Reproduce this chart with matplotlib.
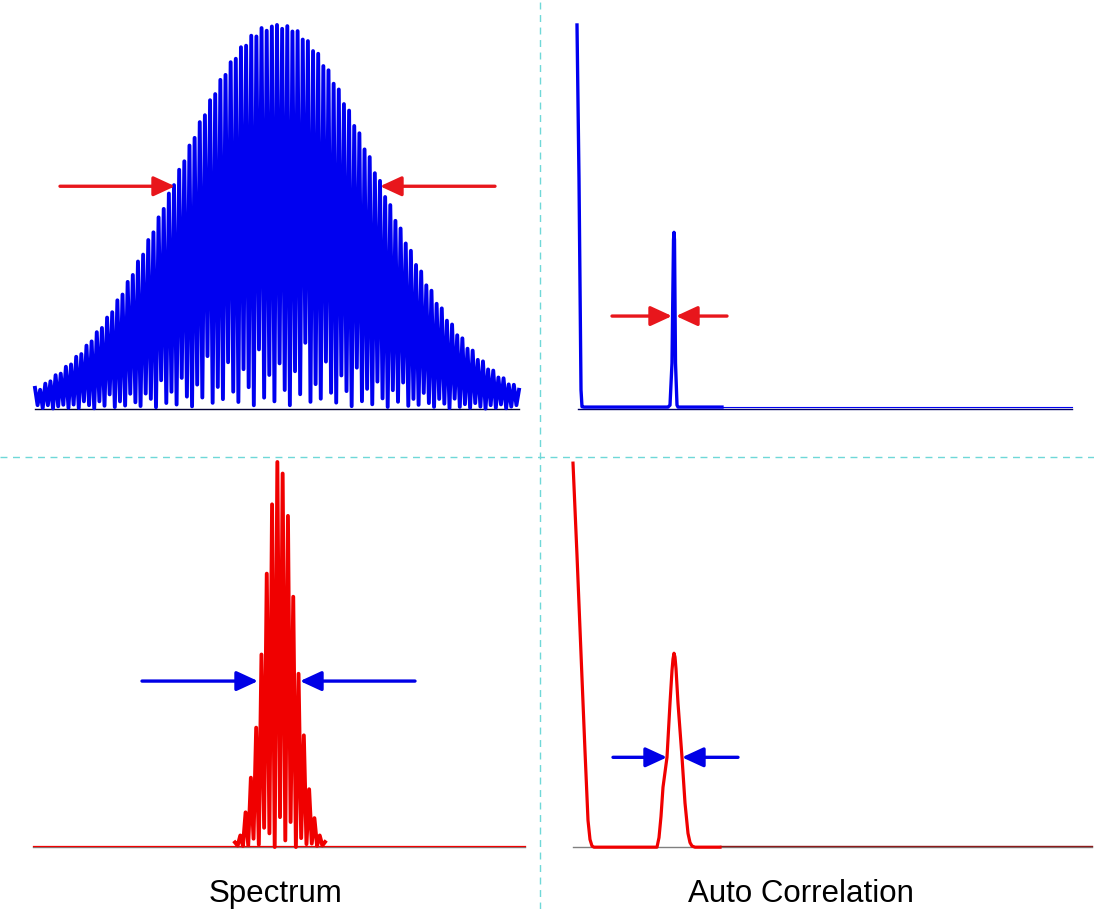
import matplotlib.pyplot as plt
import numpy as np
from matplotlib.lines import Line2D

# ---- data ----
# broad source: fringe peak heights (normalised) across the spectrum
blue_peaks = [
    0.055, 0.050, 0.066, 0.072, 0.088, 0.092, 0.110, 0.116, 0.136, 0.143,
    0.165, 0.176, 0.200, 0.211, 0.238, 0.252, 0.283, 0.298, 0.331, 0.349,
    0.384, 0.402, 0.440, 0.460, 0.499, 0.521, 0.561, 0.583, 0.623, 0.645,
    0.686, 0.706, 0.747, 0.765, 0.804, 0.820, 0.857, 0.870, 0.903, 0.912,
    0.942, 0.946, 0.972, 0.970, 0.992, 0.985, 0.996,
    1.000,
    0.990, 0.997, 0.983, 0.984, 0.962, 0.958, 0.932, 0.925, 0.893, 0.882,
    0.847, 0.832, 0.794, 0.777, 0.737, 0.718, 0.676, 0.656, 0.614, 0.594,
    0.552, 0.531, 0.490, 0.470, 0.431, 0.412, 0.375, 0.358, 0.322, 0.308,
    0.274, 0.262, 0.230, 0.220, 0.192, 0.184, 0.157, 0.152, 0.128, 0.124,
    0.103, 0.100, 0.082, 0.080, 0.064, 0.063, 0.050,
]
# depth of the dip between neighbouring fringes (fraction of lower peak)
blue_dips = [
    0.20, 0.05, 0.15, 0.02, 0.08, 0.12, 0.03, 0.10, 0.02, 0.14,
    0.06, 0.01, 0.10, 0.04, 0.16, 0.02, 0.07, 0.03, 0.12, 0.05,
    0.02, 0.10, 0.06, 0.01, 0.15, 0.03, 0.08, 0.02, 0.13, 0.05,
    0.01, 0.09, 0.04, 0.18, 0.02, 0.07, 0.03, 0.14, 0.05, 0.02,
    0.11, 0.06, 0.01, 0.16, 0.03, 0.09, 0.02, 0.12, 0.05, 0.01,
    0.10, 0.04, 0.18, 0.02, 0.07, 0.03, 0.14, 0.05, 0.02, 0.11,
    0.06, 0.01, 0.15, 0.03, 0.08, 0.02, 0.12, 0.05, 0.01, 0.10,
    0.04, 0.16, 0.02, 0.07, 0.03, 0.13, 0.05, 0.02, 0.10, 0.06,
    0.01, 0.14, 0.03, 0.08, 0.02, 0.12, 0.05, 0.01, 0.10, 0.04,
    0.15, 0.03, 0.10, 0.20,
]
blue_freq_range = (-2.42, 2.42)

# narrow source
red_peaks = [
    0.012, 0.030, 0.090, 0.180, 0.310, 0.500, 0.710, 0.890, 1.000,
    0.970, 0.860, 0.650, 0.450, 0.290, 0.150, 0.075, 0.030, 0.013,
]
red_dips = [
    0.30, 0.10, 0.05, 0.12, 0.02, 0.10, 0.05, 0.00, 0.08,
    0.02, 0.10, 0.00, 0.08, 0.05, 0.12, 0.10, 0.30,
]
red_freq_range = (-0.42, 0.48)
freq_extent = (-2.44, 2.48)

# autocorrelations (delay, amplitude)
blue_ac_delay = [-0.01, 0.01, 0.03, 0.04, 0.06, 0.90, 0.92, 0.94, 0.955,
                 0.96, 0.965, 0.975, 0.99, 1.00, 1.44]
blue_ac_amp = [1.00, 0.60, 0.05, 0.006, 0.005, 0.005, 0.01, 0.12, 0.44,
               0.46, 0.44, 0.12, 0.01, 0.005, 0.005]
blue_ac_end = 4.94

red_ac_delay = [0.00, 0.02, 0.04, 0.065, 0.09, 0.12, 0.15, 0.17, 0.19, 0.21,
                0.84, 0.86, 0.88, 0.90, 0.94, 0.97, 0.99, 1.00, 1.01, 1.02,
                1.03, 1.05, 1.09, 1.12, 1.15, 1.17, 1.19, 1.22, 1.47]
red_ac_amp = [1.00, 0.88, 0.76, 0.60, 0.44, 0.25, 0.07, 0.02, 0.003, 0.0,
              0.0, 0.025, 0.08, 0.156, 0.234, 0.375, 0.46, 0.49, 0.505, 0.495,
              0.465, 0.375, 0.234, 0.115, 0.036, 0.012, 0.003, 0.0, 0.0]
red_ac_end = 5.19

labels = ["Spectrum", "Auto Correlation"]

BLUE = "#0000f0"
RED = "#f00000"
ARROW_RED = "#e8161c"
ARROW_BLUE = "#0000e6"
DIVIDER = "#6fd8d8"

W, H = 1094, 909


def fringe_trace(peaks, dips, lo, hi):
    """Zig-zag trace through fringe peaks and the dips between them."""
    nu = np.linspace(lo, hi, len(peaks))
    xs, ys = [], []
    for i, p in enumerate(peaks):
        xs.append(nu[i])
        ys.append(p)
        if i < len(peaks) - 1:
            xs.append(0.5 * (nu[i] + nu[i + 1]))
            ys.append(dips[i] * min(p, peaks[i + 1]))
    return xs, ys


def quadrant(fig, x0, x1, y0, y1, xlim, ylim):
    ax = fig.add_axes([x0 / W, 1 - y1 / H, (x1 - x0) / W, (y1 - y0) / H])
    ax.set_xlim(*xlim)
    ax.set_ylim(*ylim)
    ax.axis("off")
    return ax


def arrow(ax, tail, tip, y, color):
    ax.annotate(
        "", xy=(tip, y), xytext=(tail, y),
        arrowprops=dict(
            arrowstyle="-|>,head_length=0.65,head_width=0.3",
            mutation_scale=20, color=color, lw=2.4,
            shrinkA=0, shrinkB=0,
        ),
    )


fig = plt.figure(figsize=(W / 100, H / 100), dpi=100)

# top left: broad spectrum
ax = quadrant(fig, 0, 540, 0, 457, (-2.77, 2.63), (-0.125, 1.065))
ax.plot(blue_freq_range, [0, 0], color="#000033", lw=1.0)
xs, ys = fringe_trace(blue_peaks, blue_dips, *blue_freq_range)
ax.plot(xs, ys, color=BLUE, lw=2.8, solid_joinstyle="round")
arrow(ax, -2.17, -1.02, 0.58, ARROW_RED)
arrow(ax, 2.18, 1.03, 0.58, ARROW_RED)

# top right: its autocorrelation
ax = quadrant(fig, 540, 1094, 0, 457, (-0.38, 5.16), (-0.125, 1.065))
ax.plot([0, blue_ac_end], [0, 0], color="#000066", lw=1.0)
ax.plot([blue_ac_delay[-1], blue_ac_end], [0.006, 0.006], color=BLUE, lw=0.8)
ax.plot(blue_ac_delay, blue_ac_amp, color=BLUE, lw=2.4)
arrow(ax, 0.34, 0.94, 0.242, ARROW_RED)
arrow(ax, 1.49, 0.98, 0.242, ARROW_RED)

# bottom left: narrow spectrum
ax = quadrant(fig, 0, 540, 457, 909, (-2.77, 2.63), (-0.161, 1.013))
ax.plot(freq_extent, [0, 0], color="#808080", lw=1.0)
ax.plot(freq_extent, [0.002, 0.002], color=RED, lw=0.9)
xs, ys = fringe_trace(red_peaks, red_dips, *red_freq_range)
ax.plot(xs, ys, color=RED, lw=2.8, solid_joinstyle="round")
arrow(ax, -1.35, -0.19, 0.431, ARROW_BLUE)
arrow(ax, 1.38, 0.23, 0.431, ARROW_BLUE)

# bottom right: its autocorrelation
ax = quadrant(fig, 540, 1094, 457, 909, (-0.33, 5.21), (-0.161, 1.016))
ax.plot([0, red_ac_end], [0, 0], color="#808080", lw=1.0)
ax.plot([red_ac_delay[-1], red_ac_end], [0.002, 0.002], color="#8b1a1a", lw=1.0)
ax.plot(red_ac_delay, red_ac_amp, color=RED, lw=2.3)
arrow(ax, 0.40, 0.94, 0.234, ARROW_BLUE)
arrow(ax, 1.65, 1.09, 0.234, ARROW_BLUE)

# dashed dividers
fig.add_artist(Line2D([540 / W, 540 / W], [0, 1], transform=fig.transFigure,
                      color=DIVIDER, lw=1.0, ls=(0, (5, 4))))
fig.add_artist(Line2D([0, 1], [1 - 457 / H, 1 - 457 / H],
                      transform=fig.transFigure,
                      color=DIVIDER, lw=1.0, ls=(0, (5, 4))))

for cx, text in zip([276, 801], labels):
    fig.text(cx / W, 1 - 902 / H, text, ha="center", va="baseline",
             fontsize=22.5, family="Liberation Sans")

fig.savefig("out.png", dpi=100, facecolor="white")
